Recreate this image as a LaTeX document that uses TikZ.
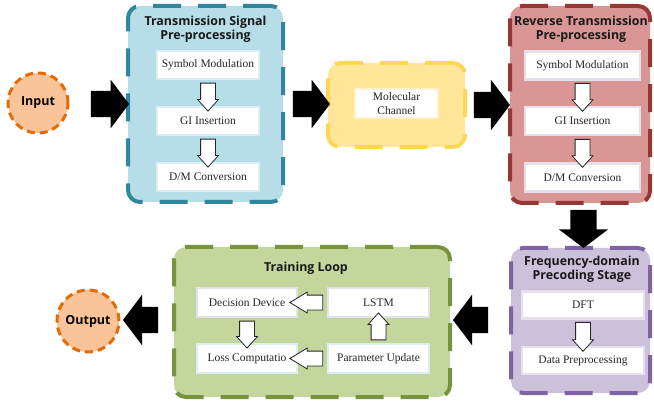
\documentclass[tikz,border=0pt]{standalone}
\usepackage{fontspec}
\setmainfont{Liberation Serif}
\newfontfamily\ttlfont{Open Sans}
\usetikzlibrary{shapes.arrows,calc}
\definecolor{orF}{HTML}{F9C49A}\definecolor{orD}{HTML}{E36C09}
\definecolor{blF}{HTML}{B7DEE8}\definecolor{blD}{HTML}{31859C}
\definecolor{yeF}{HTML}{FFE699}\definecolor{yeD}{HTML}{FFD757}
\definecolor{reF}{HTML}{D99694}\definecolor{reD}{HTML}{953735}
\definecolor{puF}{HTML}{CCC1DA}\definecolor{puD}{HTML}{8064A2}
\definecolor{grF}{HTML}{C3D69B}\definecolor{grD}{HTML}{77933C}
\definecolor{lavB}{HTML}{E6E0EC}\definecolor{lblB}{HTML}{DAEEF3}
\definecolor{lyeB}{HTML}{FFF2CC}
\tikzset{
  grp/.style={rounded corners=12pt,line width=4pt,dash pattern=on 28pt off 17pt,inner sep=0pt},
  circ/.style={circle,fill=orF,draw=orD,line width=3pt,dash pattern=on 8pt off 5pt,inner sep=0pt,
    font=\ttlfont\bfseries\fontsize{12.5}{14}\selectfont},
  inbox/.style={fill=white,draw=#1,line width=2.5pt,inner sep=0pt,align=center,
    font=\fontsize{11.5}{14}\selectfont,text=black!85},
  ttl/.style={align=center,inner sep=0pt,font=\ttlfont\bfseries\fontsize{12.4}{14.5}\selectfont,text=black!90},
  blk/.style={single arrow,fill=black,inner xsep=0pt,inner ysep=13pt,
    single arrow head extend=11pt,single arrow tip angle=106},
  warr/.style={single arrow,fill=white,draw=black!85,line width=0.8pt,inner xsep=0pt,inner ysep=7pt,
    single arrow head extend=3pt,single arrow tip angle=84},
}
\begin{document}
\begin{tikzpicture}[x=1pt,y=-1pt]
\useasboundingbox (0,0) rectangle (654,401);
% circles
\node[circ,minimum size=60pt] (in) at (38,103) {Input};
\node[circ,minimum size=62pt] (out) at (88,321) {Output};
% group boxes
\node[grp,fill=blF,draw=blD,minimum width=155pt,minimum height=196pt] (tx) at (205.5,104) {};
\node[grp,fill=yeF,draw=yeD,minimum width=137pt,minimum height=84pt] (ch) at (396.5,105) {};
\node[grp,fill=reF,draw=reD,minimum width=140pt,minimum height=197pt] (rx) at (580,104.5) {};
\node[grp,fill=puF,draw=puD,minimum width=139pt,minimum height=145pt] (fd) at (580.5,320.5) {};
\node[grp,fill=grF,draw=grD,minimum width=276pt,minimum height=150pt] (tl) at (312,322) {};
% titles
\node[ttl] (txt) at (205.5,29.5) {Transmission Signal\\Pre-processing};
\node[ttl] (rxt) at (581,29.5) {Reverse Transmission\\Pre-processing};
\node[ttl] (fdt) at (582,269.5) {Frequency-domain\\Precoding Stage};
\node[ttl] (tlt) at (306,268) {Training Loop};
% inner boxes: transmission
\node[inbox=lblB,minimum width=102pt,minimum height=28pt] (sm1) at (208,65) {Symbol Modulation};
\node[inbox=lblB,minimum width=102pt,minimum height=28pt] (gi1) at (208,121) {GI Insertion};
\node[inbox=lblB,minimum width=102pt,minimum height=28pt] (dm1) at (208,177) {D/M Conversion};
% channel
\node[inbox=lyeB,minimum width=83pt,minimum height=29pt] (mc) at (396.5,103.5) {Molecular\\Channel};
% reverse
\node[inbox=lavB,minimum width=115pt,minimum height=28pt] (sm2) at (582.5,65.5) {Symbol Modulation};
\node[inbox=lavB,minimum width=115pt,minimum height=28pt] (gi2) at (582.5,121) {GI Insertion};
\node[inbox=lavB,minimum width=115pt,minimum height=28pt] (dm2) at (582.5,177.5) {D/M Conversion};
% frequency domain
\node[inbox=lavB,minimum width=122pt,minimum height=27pt] (dft) at (583,305) {DFT};
\node[inbox=lavB,minimum width=122pt,minimum height=27pt] (dp) at (583,360.5) {Data Preprocessing};
% training loop
\node[inbox=lavB,minimum width=100pt,minimum height=29pt] (dd) at (247,302.5) {Decision Device};
\node[inbox=lblB,minimum width=100pt,minimum height=29pt] (lc) at (247,358.5) {Loss Computatio};
\node[inbox=lavB,minimum width=101pt,minimum height=29pt] (ls) at (378.5,302.5) {LSTM};
\node[inbox=lblB,minimum width=101pt,minimum height=29pt] (pu) at (378.5,358.5) {Parameter Update};
% black block arrows
\node[blk,minimum height=38pt] (b1) at (105,104) {};
\node[blk,minimum height=37pt] (b2) at (306.5,104) {};
\node[blk,minimum height=36pt,single arrow head extend=12pt] (b3) at (487,105) {};
\node[blk,minimum height=38pt,single arrow head extend=11.5pt,rotate=-90] (b4) at (583.5,224) {};
\node[blk,minimum height=35pt,single arrow head extend=12pt,rotate=180] (b5) at (475.5,320) {};
\node[blk,minimum height=35pt,single arrow head extend=12pt,rotate=180] (b6) at (145.5,320) {};
% white arrows
\node[warr,minimum height=28pt,rotate=-90] (w1) at ($(sm1.south)!.5!(gi1.north)$) {};
\node[warr,minimum height=28pt,rotate=-90] (w2) at ($(gi1.south)!.5!(dm1.north)$) {};
\node[warr,minimum height=28pt,rotate=-90] (w3) at ($(sm2.south)!.5!(gi2.north)$) {};
\node[warr,minimum height=28pt,rotate=-90] (w4) at ($(gi2.south)!.5!(dm2.north)$) {};
\node[warr,minimum height=29pt,rotate=-90] (w5) at ($(dft.south)!.5!(dp.north)$) {};
\node[warr,minimum height=27pt,rotate=-90] (w6) at ($(dd.south)!.5!(lc.north)$) {};
\node[warr,minimum height=27pt,rotate=90] (w7) at ($(pu.north)!.5!(ls.south)$) {};
\node[warr,minimum height=33pt,single arrow tip angle=62,rotate=180] (w8) at ($(ls.west)!.5!(dd.east)$) {};
\node[warr,minimum height=33pt,single arrow tip angle=62,rotate=180] (w9) at ($(pu.west)!.5!(lc.east)$) {};
\end{tikzpicture}
\end{document}
